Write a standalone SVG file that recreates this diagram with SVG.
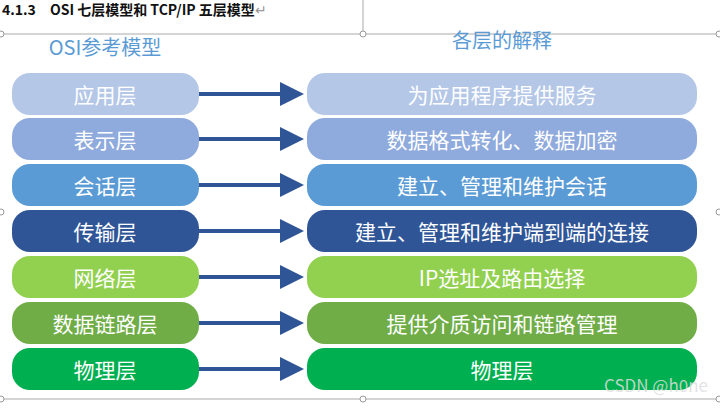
<svg xmlns="http://www.w3.org/2000/svg" width="720" height="408" viewBox="0 0 720 408">
<defs>
<marker id="ah" markerWidth="6" markerHeight="6" refX="5" refY="3" orient="auto" markerUnits="strokeWidth"><path d="M0,0 L6,3 L0,6 Z" fill="#2f5597"/></marker>
<style>
text{font-family:"Microsoft YaHei","Noto Sans CJK SC",sans-serif;}
.lt{fill:#fff;font-size:21px;text-anchor:middle;dominant-baseline:central}
.hd{fill:#5b9bd5;font-size:20px;text-anchor:middle}
.fr{stroke:#aaa;stroke-width:1;fill:none}
.ci{fill:#fff;stroke:#999;stroke-width:1}
.ar{stroke:#2f5597;stroke-width:4;marker-end:url(#ah)}
</style>
</defs>
<rect width="720" height="408" fill="#fff"/>
<text x="2" y="15" font-size="14" font-weight="bold" fill="#111">4.1.3　OSI 七层模型和 TCP/IP 五层模型<tspan fill="#999" font-weight="normal">↵</tspan></text>
<g class="fr"><line x1="0" y1="34" x2="720" y2="34"/><line x1="363" y1="0" x2="363" y2="34"/><line x1="0" y1="399" x2="720" y2="399"/></g>
<g><circle class="ci" cx="1" cy="34" r="3"/><circle class="ci" cx="363" cy="34" r="3"/><circle class="ci" cx="719" cy="34" r="3"/><circle class="ci" cx="1" cy="212" r="3"/><circle class="ci" cx="719" cy="212" r="3"/><circle class="ci" cx="363" cy="399" r="3"/><circle class="ci" cx="1" cy="399" r="3"/><circle class="ci" cx="719" cy="399" r="3"/></g>
<text class="hd" x="105" y="55">OSI参考模型</text>
<text class="hd" x="502" y="48">各层的解释</text>
<g id="connectors">
<line class="ar" x1="198" y1="94" x2="300" y2="94"/>
<line class="ar" x1="198" y1="139" x2="300" y2="139"/>
<line class="ar" x1="198" y1="185" x2="300" y2="185"/>
<line class="ar" x1="198" y1="231" x2="300" y2="231"/>
<line class="ar" x1="198" y1="277" x2="300" y2="277"/>
<line class="ar" x1="198" y1="323" x2="300" y2="323"/>
<line class="ar" x1="198" y1="369" x2="300" y2="369"/>
</g>
<g id="l1"><rect x="12" y="73" width="187" height="42" rx="18" fill="#b4c7e7"/><text class="lt" x="105" y="94">应用层</text></g>
<g id="r1"><rect x="307" y="73" width="390" height="42" rx="18" fill="#b4c7e7"/><text class="lt" x="502" y="94">为应用程序提供服务</text></g>
<g id="l2"><rect x="12" y="118" width="187" height="42" rx="18" fill="#8faadc"/><text class="lt" x="105" y="139">表示层</text></g>
<g id="r2"><rect x="307" y="118" width="390" height="42" rx="18" fill="#8faadc"/><text class="lt" x="502" y="139">数据格式转化、数据加密</text></g>
<g id="l3"><rect x="12" y="164" width="187" height="42" rx="18" fill="#5b9bd5"/><text class="lt" x="105" y="185">会话层</text></g>
<g id="r3"><rect x="307" y="164" width="390" height="42" rx="18" fill="#5b9bd5"/><text class="lt" x="502" y="185">建立、管理和维护会话</text></g>
<g id="l4"><rect x="12" y="210" width="187" height="42" rx="18" fill="#2f5597"/><text class="lt" x="105" y="231">传输层</text></g>
<g id="r4"><rect x="307" y="210" width="390" height="42" rx="18" fill="#2f5597"/><text class="lt" x="502" y="231">建立、管理和维护端到端的连接</text></g>
<g id="l5"><rect x="12" y="256" width="187" height="42" rx="18" fill="#92d050"/><text class="lt" x="105" y="277">网络层</text></g>
<g id="r5"><rect x="307" y="256" width="390" height="42" rx="18" fill="#92d050"/><text class="lt" x="502" y="277">IP选址及路由选择</text></g>
<g id="l6"><rect x="12" y="302" width="187" height="42" rx="18" fill="#70ad47"/><text class="lt" x="105" y="323">数据链路层</text></g>
<g id="r6"><rect x="307" y="302" width="390" height="42" rx="18" fill="#70ad47"/><text class="lt" x="502" y="323">提供介质访问和链路管理</text></g>
<g id="l7"><rect x="12" y="348" width="187" height="42" rx="18" fill="#00b050"/><text class="lt" x="105" y="369">物理层</text></g>
<g id="r7"><rect x="307" y="348" width="390" height="42" rx="18" fill="#00b050"/><text class="lt" x="502" y="369">物理层</text></g>
<text x="708" y="392" font-size="17" fill="#ddd" fill-opacity="0.85" text-anchor="end">CSDN @h0ne</text>
</svg>
